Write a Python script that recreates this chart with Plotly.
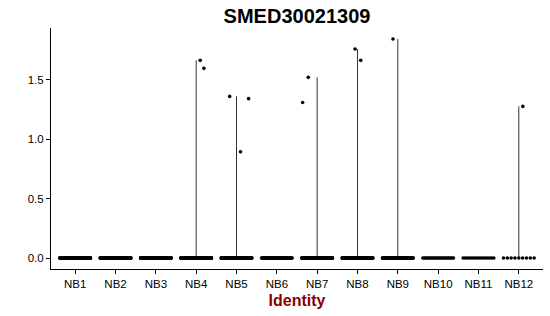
import numpy as np
import plotly.graph_objects as go

# ---- data ----
groups = ["NB1", "NB2", "NB3", "NB4", "NB5", "NB6",
          "NB7", "NB8", "NB9", "NB10", "NB11", "NB12"]
zero_counts = [300, 260, 260, 300, 220, 60, 220, 220, 160, 24, 16, 9]
nonzero_values = [
    [], [], [],
    [1.662, 1.595],
    [1.359, 1.340, 0.893],
    [],
    [1.519, 1.308],
    [1.757, 1.662],
    [1.842],
    [], [],
    [1.275],
]
title_text = "SMED30021309"
x_title = "Identity"
y_ticks = [0.0, 0.5, 1.0, 1.5]

# ---- display-only jitter offsets for the non-zero points ----
nonzero_jitter = [
    [], [], [],
    [0.10, 0.19],
    [-0.17, 0.30, 0.10],
    [],
    [-0.22, -0.36],
    [-0.06, 0.08],
    [-0.12],
    [], [],
    [0.10],
]
JW = 0.38

all_vals = [v for g in nonzero_values for v in g] + [0.0]
ymax = max(all_vals)
ymin = 0.0
span = ymax - ymin

fig = go.Figure()

# violin outlines (collapsed to lines since values are mostly zero)
for i, vals in enumerate(nonzero_values):
    if vals:
        fig.add_trace(go.Scatter(
            x=[i, i], y=[0, max(vals)], mode="lines",
            line=dict(color="#333333", width=1),
            hoverinfo="skip", showlegend=False))

# zero points
xs, ys = [], []
for i, n in enumerate(zero_counts):
    offs = np.linspace(-JW, JW, n) if n > 1 else np.array([0.0])
    xs.extend(list(i + offs))
    ys.extend([0.0] * n)
fig.add_trace(go.Scatter(x=xs, y=ys, mode="markers",
                         marker=dict(color="black", size=3.6),
                         hoverinfo="skip", showlegend=False))

# non-zero points
nx, ny = [], []
for i, (vals, jit) in enumerate(zip(nonzero_values, nonzero_jitter)):
    for v, j in zip(vals, jit):
        nx.append(i + j)
        ny.append(v)
fig.add_trace(go.Scatter(x=nx, y=ny, mode="markers",
                         marker=dict(color="black", size=3.6),
                         hoverinfo="skip", showlegend=False))

fig.update_layout(
    width=550, height=316,
    margin=dict(l=51, r=7, t=28, b=47),
    paper_bgcolor="white", plot_bgcolor="white",
    font=dict(family="Liberation Sans, Arial, sans-serif", color="black"),
    title=dict(text="<b>" + title_text + "</b>", x=0.54, xanchor="center",
               y=0.95, yanchor="middle", font=dict(size=20, color="black")),
    showlegend=False,
)
fig.update_xaxes(
    range=[-0.6, len(groups) - 0.4],
    tickmode="array", tickvals=list(range(len(groups))), ticktext=groups,
    showgrid=False, zeroline=False,
    showline=True, linecolor="black", linewidth=1,
    ticks="outside", ticklen=4, tickcolor="black", tickwidth=1,
    tickfont=dict(size=11.5, color="black"),
    title=dict(text="<b>" + x_title + "</b>", standoff=6,
               font=dict(size=16, color="#8B0000")),
)
fig.update_yaxes(
    range=[ymin - 0.05 * span, ymax + 0.05 * span],
    tickmode="array", tickvals=y_ticks,
    ticktext=[f"{v:.1f}" for v in y_ticks],
    showgrid=False, zeroline=False,
    showline=True, linecolor="black", linewidth=1,
    ticks="outside", ticklen=4, tickcolor="black", tickwidth=1,
    tickfont=dict(size=11.5, color="black"),
)

fig.write_html("out.html")
